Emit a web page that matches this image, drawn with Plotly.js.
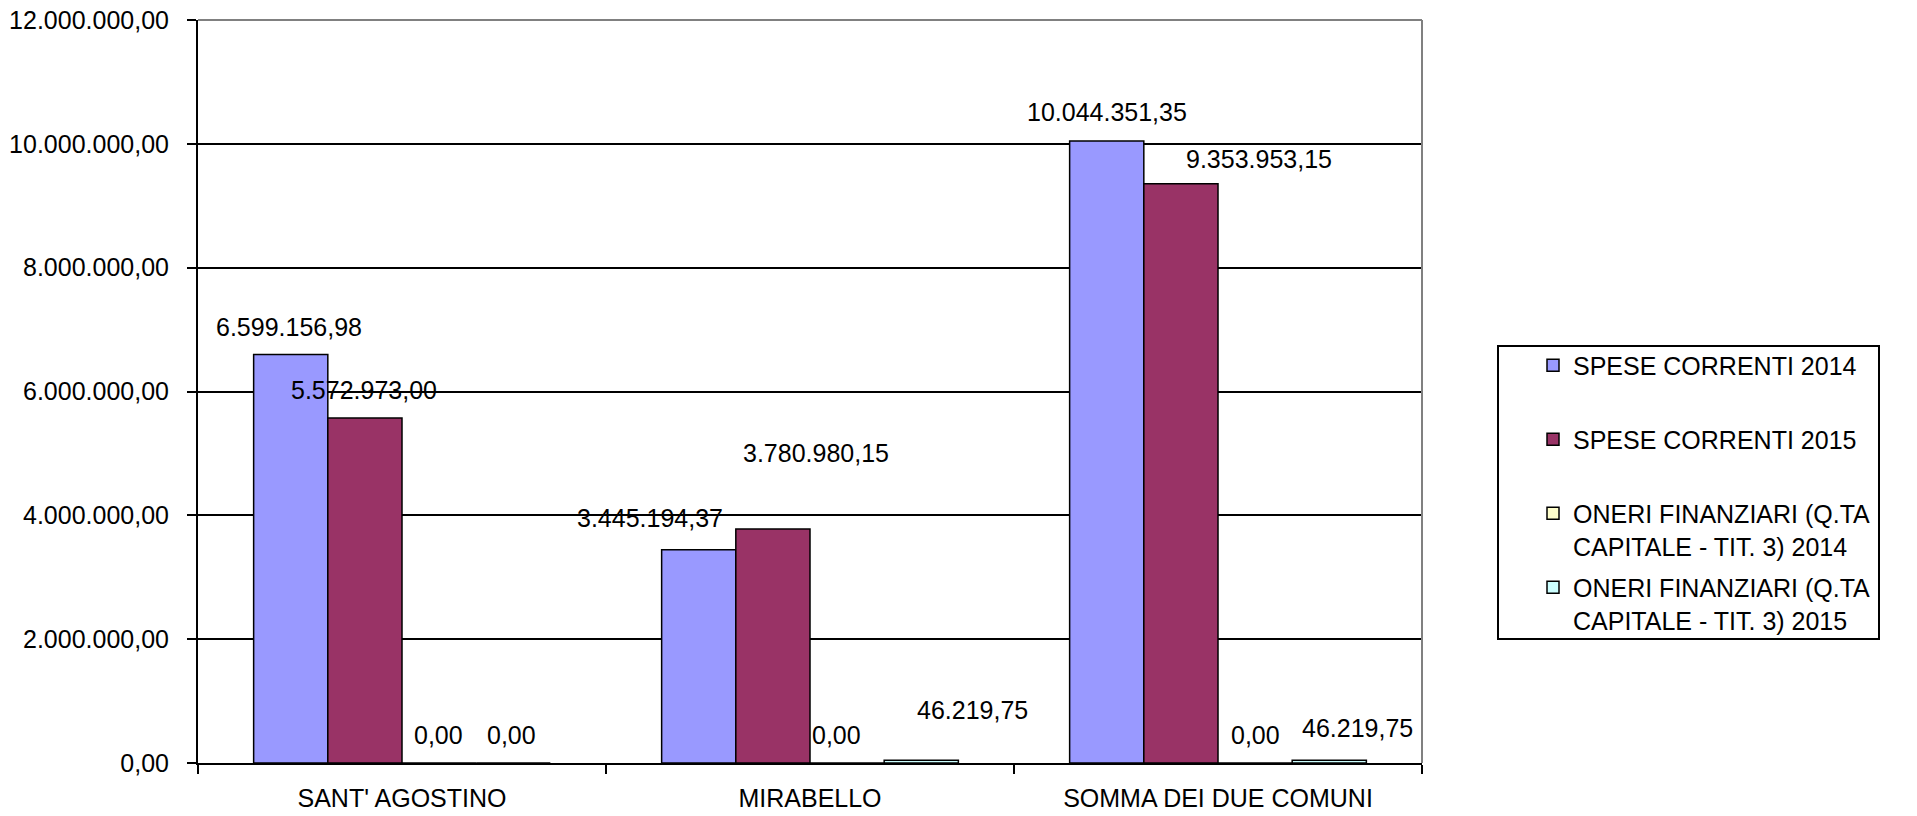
<!DOCTYPE html>
<html>
<head>
<meta charset="utf-8">
<script src="https://cdn.plot.ly/plotly-3.0.1.min.js"></script>
<style>
  html, body { margin: 0; padding: 0; background: #ffffff; }
  #chart { width: 1917px; height: 816px; }
</style>
</head>
<body>
<div id="chart"></div>
<script>
// ---- data ----
const categories = ["SANT' AGOSTINO", "MIRABELLO", "SOMMA DEI DUE COMUNI"];
const seriesNames = [
  "SPESE CORRENTI 2014",
  "SPESE CORRENTI 2015",
  "ONERI FINANZIARI (Q.TA<br>CAPITALE - TIT. 3) 2014",
  "ONERI FINANZIARI (Q.TA<br>CAPITALE - TIT. 3) 2015"
];
const speseCorrenti2014 = [6599156.98, 3445194.37, 10044351.35];
const speseCorrenti2015 = [5572973.00, 3780980.15, 9353953.15];
const oneriFinanziari2014 = [0.00, 0.00, 0.00];
const oneriFinanziari2015 = [0.00, 46219.75, 46219.75];
const yTickValues = [0, 2000000, 4000000, 6000000, 8000000, 10000000, 12000000];

// ---- styling ----
const seriesColors = ["#9999FF", "#993366", "#FFFFCC", "#CCFFFF"];
const FONT = "'Liberation Sans', Arial, sans-serif";
// manual nudges of each data label (px) relative to its bar's top centre: [dx, dy up]
const labelNudge = [
  [[-2, 27.5], [-49, 32], [0, 29]],
  [[-1, 28], [43.5, 76], [78, 25]],
  [[-1, 28], [-11, 28], [0, 28]],
  [[-1.5, 28], [51, 50], [28, 32]]
];

const seriesValues = [speseCorrenti2014, speseCorrenti2015, oneriFinanziari2014, oneriFinanziari2015];

function fmtIt(v) {
  const parts = Math.abs(v).toFixed(2).split(".");
  const intPart = parts[0].replace(/\B(?=(\d{3})+(?!\d))/g, ".");
  return (v < 0 ? "-" : "") + intPart + "," + parts[1];
}

const W = 1917, H = 816;
const margin = { l: 198, r: 495, t: 20, b: 53 };
const bargap = 1.5 / 5.5;
const plotW = W - margin.l - margin.r;
const plotH = H - margin.t - margin.b;
const catW = plotW / categories.length;
const barW = catW * (1 - bargap) / seriesValues.length;

// pad single-line legend entries to two lines so every entry gets the same slot height
const legendNames = seriesNames.map(n => n.indexOf("<br>") >= 0 ? n : n + "<br>&nbsp;");

const traces = seriesValues.map((vals, i) => ({
  type: "bar",
  name: legendNames[i],
  x: categories,
  y: vals,
  legendgroup: "g" + i,
  marker: { color: seriesColors[i], line: { color: "#000000", width: 1.5 } },
  hoverinfo: "x+y"
}));

const annotations = [];
seriesValues.forEach((vals, i) => {
  vals.forEach((v, j) => {
    const off = (i - (seriesValues.length - 1) / 2) * barW;
    annotations.push({
      x: categories[j], y: v, xref: "x", yref: "y",
      text: fmtIt(v), showarrow: false,
      xanchor: "center", yanchor: "middle",
      xshift: off + labelNudge[i][j][0],
      yshift: labelNudge[i][j][1],
      font: { family: FONT, size: 25, color: "#000000" }
    });
  });
});

const layout = {
  width: W, height: H,
  margin: margin,
  paper_bgcolor: "#ffffff",
  plot_bgcolor: "#ffffff",
  separators: ",.",
  barmode: "group",
  bargap: bargap,
  bargroupgap: 0,
  font: { family: FONT, size: 25, color: "#000000" },
  showlegend: true,
  legend: {
    x: (1533 - margin.l) / plotW,
    xanchor: "left",
    y: (H - margin.b - 342.5) / plotH,
    yanchor: "top",
    bgcolor: "rgba(0,0,0,0)",
    borderwidth: 0,
    font: { family: FONT, size: 25, color: "#000000" },
    tracegroupgap: 6,
    valign: "top",
    traceorder: "grouped"
  },
  xaxis: {
    type: "category",
    showline: true, linecolor: "#000000", linewidth: 2,
    ticks: "outside", tickson: "boundaries", ticklen: 9, tickwidth: 2, tickcolor: "#000000",
    showgrid: false, zeroline: false,
    tickfont: { family: FONT, size: 25, color: "#000000" },
    ticklabelstandoff: 12,
    fixedrange: true
  },
  yaxis: {
    range: [0, 12000000],
    tickvals: yTickValues,
    tickformat: ",.2f",
    showline: true, linecolor: "#000000", linewidth: 2,
    ticks: "outside", ticklen: 9, tickwidth: 2, tickcolor: "#000000",
    showgrid: true, gridcolor: "#000000", gridwidth: 2,
    zeroline: false,
    tickfont: { family: FONT, size: 25, color: "#000000" },
    ticklabelstandoff: 13,
    fixedrange: true
  },
  shapes: [
    { type: "line", xref: "paper", yref: "paper", x0: 0, x1: 1, y0: 1, y1: 1,
      line: { color: "#808080", width: 2 }, layer: "above" },
    { type: "line", xref: "paper", yref: "paper", x0: 1, x1: 1, y0: 0, y1: 1,
      line: { color: "#808080", width: 2 }, layer: "above" },
    { type: "rect", xref: "paper", yref: "paper",
      x0: (1498 - margin.l) / plotW, x1: (1879 - margin.l) / plotW,
      y0: (H - margin.b - 639) / plotH,
      y1: (H - margin.b - 346) / plotH,
      line: { color: "#000000", width: 2 }, fillcolor: "rgba(0,0,0,0)", layer: "above" }
  ],
  annotations: annotations
};

Plotly.newPlot("chart", traces, layout, { staticPlot: true, displayModeBar: false });
</script>
</body>
</html>
